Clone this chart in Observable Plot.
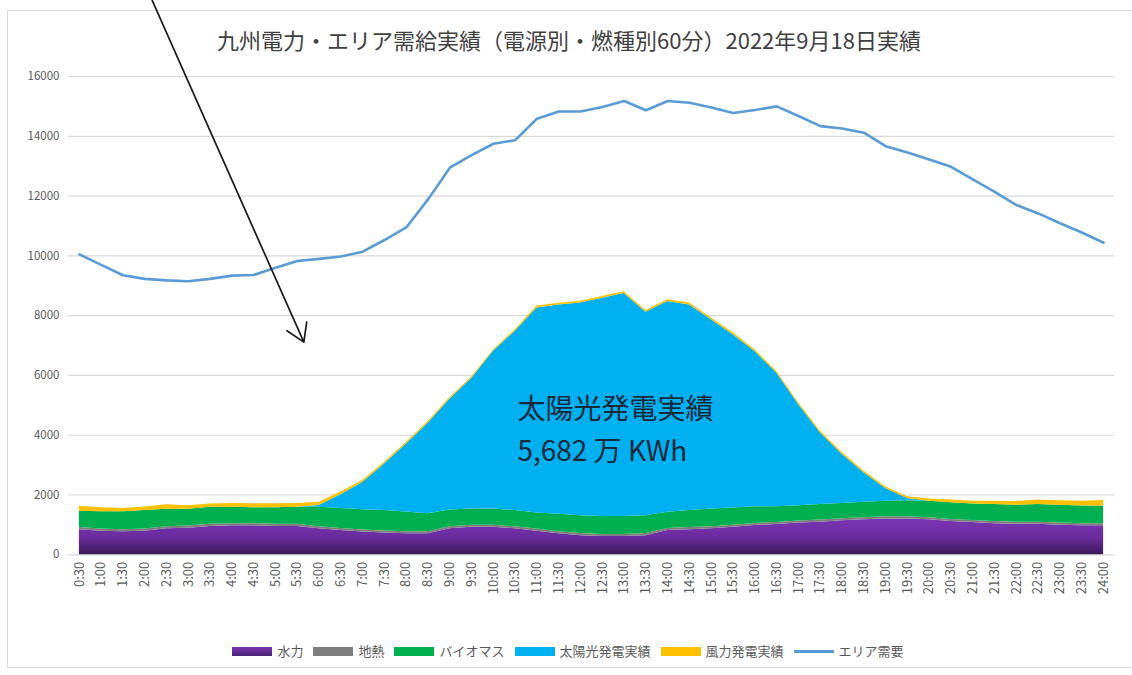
<!DOCTYPE html>
<html>
<head>
<meta charset="utf-8">
<script src="https://cdn.jsdelivr.net/npm/d3@7"></script>
<script src="https://cdn.jsdelivr.net/npm/@observablehq/plot@0.6"></script>
<style>
  body { margin: 0; background: #fff; font-family: "Noto Sans CJK JP", "Noto Sans", sans-serif; }
  #wrap { position: relative; width: 1132px; height: 675px; overflow: hidden; background: #fff; }
  #frame { position: absolute; left: 7px; top: 10px; width: 1130px; height: 658px; border: 1px solid #d9d9d9; box-sizing: border-box; }
  #title { position: absolute; top: 26px; left: 0; width: 1138px; text-align: center; font-size: 22px; line-height: 26px; color: #404040; white-space: nowrap; }
  #chart { position: absolute; left: 0; top: 0; }
  #legend { position: absolute; top: 642px; left: 0; width: 1136px; display: flex; justify-content: center; align-items: center; font-size: 13px; line-height: 18px; color: #595959; white-space: nowrap; }
  .item { display: flex; align-items: center; margin: 0 5px; }
  .sw { width: 40px; height: 9px; margin-right: 5px; }
  .ln { width: 40px; height: 3px; margin-right: 5px; background: #5B9BD5; }
</style>
</head>
<body>
<div id="wrap">
  <div id="frame"></div>
  <div id="chart"></div>
  <div id="title"></div>
  <div id="legend"></div>
</div>
<script>
// ---- data ----
const titleText = "九州電力・エリア需給実績（電源別・燃種別60分）2022年9月18日実績";
const times = ["0:30","1:00","1:30","2:00","2:30","3:00","3:30","4:00","4:30","5:00","5:30","6:00",
  "6:30","7:00","7:30","8:00","8:30","9:00","9:30","10:00","10:30","11:00","11:30","12:00",
  "12:30","13:00","13:30","14:00","14:30","15:00","15:30","16:00","16:30","17:00","17:30","18:00",
  "18:30","19:00","19:30","20:00","20:30","21:00","21:30","22:00","22:30","23:00","23:30","24:00"];
const sources = ["水力", "地熱", "バイオマス", "太陽光発電実績", "風力発電実績"];
const demandName = "エリア需要";
const hydro = [840,790,770,790,870,890,950,970,970,950,950,870,810,760,730,700,700,870,920,920,870,790,700,640,
  610,610,640,810,840,870,920,980,1010,1060,1090,1140,1170,1200,1200,1170,1110,1080,1040,1020,1020,990,970,970];
const geothermal = [70,70,70,70,70,70,70,70,70,70,70,70,70,70,70,70,70,70,70,70,70,70,70,70,
  70,70,70,70,70,70,70,70,70,70,70,70,70,70,70,70,70,70,70,70,70,70,70,70];
const biomass = [550,580,600,620,585,565,570,550,530,550,570,650,670,675,680,660,600,560,545,545,540,540,585,600,
  600,600,600,540,570,590,575,560,530,515,520,510,515,520,540,550,565,550,570,565,590,595,595,595];
const solar = [0,0,0,0,0,0,0,0,0,0,0,60,460,910,1560,2270,3030,3700,4360,5270,6000,6860,7000,7110,
  7300,7460,6800,7050,6880,6330,5800,5190,4470,3380,2400,1640,990,430,70,0,0,0,0,0,0,0,0,0];
const wind = [167,134,110,123,147,115,113,128,135,135,128,110,90,70,60,60,55,50,50,50,50,60,60,60,
  60,60,60,60,60,60,60,60,60,60,60,60,60,60,60,80,90,90,110,130,155,155,155,180];
const demand = [10050,9700,9350,9230,9180,9150,9230,9340,9360,9600,9830,9900,9980,10140,10530,10950,11890,12950,13370,13750,13870,14590,14830,14830,
  14980,15180,14870,15180,15120,14960,14780,14880,15000,14680,14340,14260,14120,13670,13460,13220,12980,12560,12140,11700,11420,11090,10780,10440];
const yTicks = [0,2000,4000,6000,8000,10000,12000,14000,16000];
const fillColors = ["url(#hydroGrad)", "#7F7F7F", "#00B050", "#00B0F0", "#FFC000"];
const demandColor = "#5B9BD5";
// annotation (hour position, value)
const annoLabels = ["太陽光発電実績", "5,682 万 KWh"];
const annoX = [10.55, 10.55];
const annoY = [4830, 3430];
const arrowFrom = [2.17, 18545];
const arrowTo = [5.65, 7113];

// ---- build ----
const hours = times.map(t => { const [h, m] = t.split(":"); return +h + (+m) / 60; });
const labelOf = new Map(hours.map((h, i) => [h, times[i]]));
const seriesVals = [hydro, geothermal, biomass, solar, wind];
const stackData = sources.flatMap((s, k) => hours.map((h, i) => ({h, source: s, value: seriesVals[k][i]})));
const demandData = hours.map((h, i) => ({h, v: demand[i]}));
const annoData = annoLabels.map((t, i) => ({t, x: annoX[i], y: annoY[i]}));
const arrowData = [{x1: arrowFrom[0], y1: arrowFrom[1], x2: arrowTo[0], y2: arrowTo[1]}];

const fontFamily = '"Noto Sans CJK JP", "Noto Sans", sans-serif';
const svg = Plot.plot({
  width: 1132,
  height: 675,
  marginLeft: 68,
  marginRight: 18,
  marginTop: 76,
  marginBottom: 120.7,
  style: {fontFamily, fontSize: "11px", color: "#595959", background: "transparent", overflow: "visible"},
  x: {type: "linear", domain: [0.25, 24.25], label: null},
  y: {domain: [0, 16000], label: null},
  color: {domain: sources, range: fillColors},
  marks: [
    Plot.gridY(yTicks, {stroke: "#d9d9d9", strokeOpacity: 1, strokeWidth: 1.2}),
    Plot.axisY(yTicks, {tickSize: 0, tickPadding: 9, tickFormat: d => String(d), fill: "#595959", fontSize: 11.5, label: null}),
    Plot.axisX(hours, {tickSize: 0, tickPadding: 7, tickRotate: -90, tickFormat: d => labelOf.get(d), fill: "#595959", fontSize: 13, label: null}),
    Plot.areaY(stackData, {x: "h", y: "value", z: "source", fill: "source", order: sources, curve: "linear"}),
    Plot.lineY(demandData, {x: "h", y: "v", stroke: demandColor, strokeWidth: 2.6, curve: "linear"}),
    Plot.text(annoData, {x: "x", y: "y", text: "t", textAnchor: "start", lineAnchor: "middle", fontSize: 28, fill: "#17283b", fontFamily}),
    Plot.arrow(arrowData, {x1: "x1", y1: "y1", x2: "x2", y2: "y2", stroke: "#1a1a1a", strokeWidth: 1.7, headLength: 18, headAngle: 64})
  ]
});

// gradient for hydro
const defs = d3.select(svg).insert("defs", ":first-child");
const g = defs.append("linearGradient").attr("id", "hydroGrad").attr("x1", 0).attr("y1", 0).attr("x2", 0).attr("y2", 1);
g.append("stop").attr("offset", "0%").attr("stop-color", "#7A36B4");
g.append("stop").attr("offset", "55%").attr("stop-color", "#6A2C9C");
g.append("stop").attr("offset", "100%").attr("stop-color", "#3B1A5A");

document.getElementById("chart").appendChild(svg);
document.getElementById("title").textContent = titleText;

// legend
const legend = document.getElementById("legend");
const swatchColors = ["linear-gradient(#7A36B4,#4a2170)", "#7F7F7F", "#00B050", "#00B0F0", "#FFC000"];
sources.forEach((s, i) => {
  const it = document.createElement("div"); it.className = "item";
  const sw = document.createElement("div"); sw.className = "sw"; sw.style.background = swatchColors[i];
  const tx = document.createElement("span"); tx.textContent = s;
  it.appendChild(sw); it.appendChild(tx); legend.appendChild(it);
});
{
  const it = document.createElement("div"); it.className = "item";
  const ln = document.createElement("div"); ln.className = "ln";
  const tx = document.createElement("span"); tx.textContent = demandName;
  it.appendChild(ln); it.appendChild(tx); legend.appendChild(it);
}
</script>
</body>
</html>
